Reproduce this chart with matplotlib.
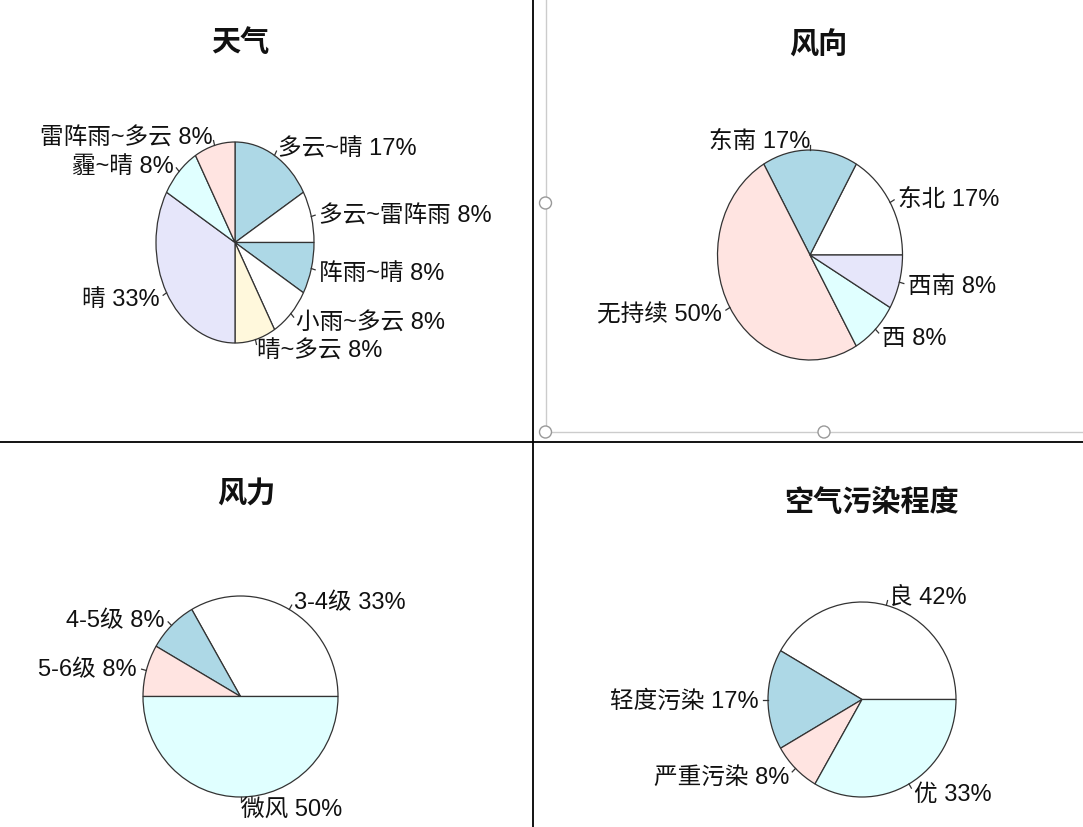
# -*- coding: utf-8 -*-
# 天气・风向・风力・空气污染程度 の円グラフ (4分割)
import numpy as np
import matplotlib
matplotlib.use("Agg")
import matplotlib.pyplot as plt

plt.rcParams['font.family'] = ['Liberation Sans', 'Noto Sans CJK SC', 'DejaVu Sans']

# データ (日数)
weather_names = ['多云~晴', '多云~雷阵雨', '阵雨~晴', '小雨~多云', '晴~多云', '晴', '霾~晴', '雷阵雨~多云']
weather_counts = [2, 1, 1, 1, 1, 4, 1, 1]

wind_dir_names = ['东北', '东南', '无持续', '西', '西南']
wind_dir_counts = [2, 2, 6, 1, 1]

wind_force_names = ['3-4级', '4-5级', '5-6级', '微风']
wind_force_counts = [4, 1, 1, 6]

pollution_names = ['良', '轻度污染', '严重污染', '优']
pollution_counts = [5, 2, 1, 4]

titles = ['天气', '风向', '风力', '空气污染程度']

# R の既定色
r_cols = ['white', 'lightblue', 'mistyrose', 'lightcyan', 'lavender', 'cornsilk']
weather_cols = ['lightblue', 'white', 'lightblue', 'white', 'cornsilk', 'lavender', 'lightcyan', 'mistyrose']

W, H = 1083, 827
fig = plt.figure(figsize=(W / 100, H / 100), dpi=100)

# 背景の区切り線と選択ハンドル (ピクセル座標)
bg = fig.add_axes([0, 0, 1, 1])
bg.set_xlim(0, W)
bg.set_ylim(H, 0)
bg.axis('off')
bg.plot([533, 533], [0, H], color='black', lw=1.3)
bg.plot([0, W], [441.5, 441.5], color='black', lw=1.3)
bg.plot([545.5, 545.5], [0, 432], color='#cccccc', lw=1)
bg.plot([545.5, W], [432, 432], color='#cccccc', lw=1)
for hx, hy in [(545.5, 203), (545.5, 432), (824, 432)]:
    bg.add_patch(plt.Circle((hx, hy), 6, facecolor='white', edgecolor='#999999', lw=1, zorder=5))

# 各パネル: 中心(x, y), 半径(x, y), タイトル位置
panels = [
    (weather_names, weather_counts, weather_cols, False, 90, (235, 242.5), (79, 100.5), (240, 42)),
    (wind_dir_names, wind_dir_counts, r_cols, True, 0, (810, 255), (92.5, 105), (818, 45)),
    (wind_force_names, wind_force_counts, r_cols, True, 0, (240.5, 696.5), (97.5, 100.5), (246, 494)),
    (pollution_names, pollution_counts, r_cols, True, 0, (862, 699.5), (94, 97.5), (872, 502)),
]

for (names, counts, cols, ccw, start, c, r, tpos), title in zip(panels, titles):
    cx, cy = c
    rx, ry = r
    ax = fig.add_axes([(cx - rx) / W, 1 - (cy + ry) / H, 2 * rx / W, 2 * ry / H])
    total = sum(counts)
    labels = ['{0} {1}%'.format(n, int(round(100 * v / total))) for n, v in zip(names, counts)]
    wedges, texts = ax.pie(counts, labels=labels, colors=cols[:len(counts)],
                           counterclock=ccw, startangle=start, labeldistance=1.1,
                           wedgeprops=dict(edgecolor='#333333', linewidth=0.9),
                           textprops=dict(fontsize=17, color='#111111'))
    for t in texts:
        t.set_verticalalignment('center_baseline')
    # R 風の引き出し線
    for w in wedges:
        th = np.deg2rad((w.theta1 + w.theta2) / 2)
        ax.plot([np.cos(th), 1.05 * np.cos(th)], [np.sin(th), 1.05 * np.sin(th)],
                color='#333333', lw=0.9, clip_on=False)
    ax.set_aspect('auto')
    ax.set_xlim(-1, 1)
    ax.set_ylim(-1, 1)
    ax.axis('off')
    fig.text(tpos[0] / W, 1 - tpos[1] / H, title, fontsize=21, fontweight='bold',
             family=['Noto Sans CJK SC'], ha='center', va='center', color='#111111')

fig.savefig('out.png', dpi=100)
